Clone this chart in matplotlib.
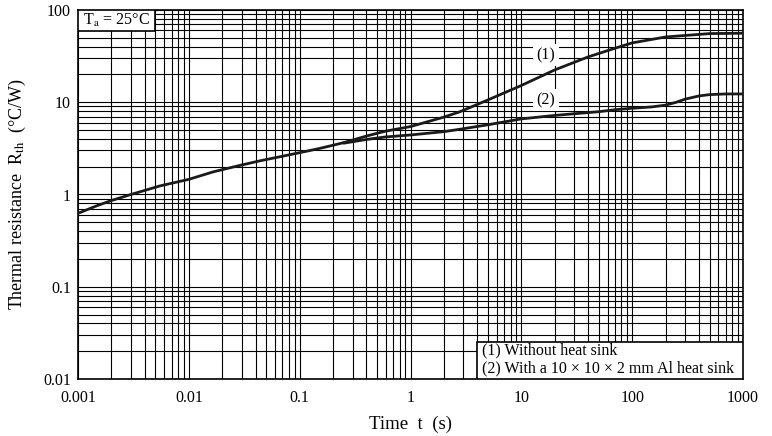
import matplotlib
matplotlib.use("Agg")
import matplotlib.pyplot as plt
from matplotlib.patches import Rectangle
from matplotlib.ticker import LogLocator, FixedLocator, FixedFormatter, NullFormatter

plt.rcParams['font.family'] = ['Liberation Serif', 'DejaVu Serif']
plt.rcParams['mathtext.fontset'] = 'stix'

# Data
t_common = [0.001, 0.0015, 0.002, 0.003, 0.0055, 0.01, 0.0166, 0.029, 0.044, 0.07, 0.1, 0.15, 0.2, 0.25]
r_common = [0.625, 0.76, 0.86, 1.0, 1.24, 1.46, 1.76, 2.07, 2.32, 2.6, 2.84, 3.15, 3.42, 3.65]

t1 = [0.25, 0.4, 0.59, 1, 2, 2.8, 5, 10, 20, 40, 70, 100, 200, 500, 1000]
r1 = [3.65, 4.3, 4.85, 5.45, 6.9, 7.9, 10.6, 15.2, 22.4, 31.0, 38.5, 44.0, 51.0, 55.5, 56.0]

t2 = [0.25, 0.4, 0.59, 1, 2, 2.8, 5, 10, 20, 50, 70, 100, 150, 200, 250, 300, 400, 500, 700, 1000]
r2 = [3.6, 3.95, 4.2, 4.42, 4.8, 5.1, 5.7, 6.6, 7.2, 7.9, 8.3, 8.6, 8.9, 9.3, 10.0, 10.8, 11.7, 12.1, 12.3, 12.3]

x_ticks = [0.001, 0.01, 0.1, 1, 10, 100, 1000]
x_labels = ['0.001', '0.01', '0.1', '1', '10', '100', '1000']
y_ticks = [0.01, 0.1, 1, 10, 100]
y_labels = ['0.01', '0.1', '1', '10', '100']

W, H = 772, 436
L, R, T, B = 78, 743, 10, 379
fig = plt.figure(figsize=(W / 100, H / 100), dpi=100)
ax = fig.add_axes([L / W, 1 - B / H, (R - L) / W, (B - T) / H])

ax.set_xscale('log')
ax.set_yscale('log')
ax.set_xlim(0.001, 1000)
ax.set_ylim(0.01, 100)

ax.xaxis.set_major_locator(FixedLocator(x_ticks))
ax.xaxis.set_major_formatter(FixedFormatter(x_labels))
ax.yaxis.set_major_locator(FixedLocator(y_ticks))
ax.yaxis.set_major_formatter(FixedFormatter(y_labels))
ax.xaxis.set_minor_locator(LogLocator(base=10, subs=range(2, 10), numticks=20))
ax.yaxis.set_minor_locator(LogLocator(base=10, subs=range(2, 10), numticks=20))
ax.xaxis.set_minor_formatter(NullFormatter())
ax.yaxis.set_minor_formatter(NullFormatter())

ax.grid(True, which='both', color='black', linewidth=0.8)
ax.tick_params(which='both', length=0, labelsize=11.5, colors='black')
ax.tick_params(axis='x', pad=8)
ax.tick_params(axis='y', pad=5)
for s in ax.spines.values():
    s.set_linewidth(1.2)
    s.set_color('black')

ax.plot(t_common, r_common, color='#1a1a1a', linewidth=2.0, zorder=3, solid_capstyle='round')
ax.plot(t1, r1, color='#1a1a1a', linewidth=2.0, zorder=3, solid_capstyle='round')
ax.plot(t2, r2, color='#1a1a1a', linewidth=2.0, zorder=3, solid_capstyle='round')

ax.text(16.7, 32.5, '(1)', fontsize=11.5, ha='center', va='center', zorder=4,
        bbox=dict(boxstyle='square,pad=0.2', facecolor='white', edgecolor='none'))
ax.text(16.7, 10.6, '(2)', fontsize=11.5, ha='center', va='center', zorder=4,
        bbox=dict(boxstyle='square,pad=0.2', facecolor='white', edgecolor='none'))

# T_a box in top-left corner
aw, ah = R - L, B - T
ax.add_patch(Rectangle((0, 1 - 21 / ah), 77 / aw, 21 / ah, transform=ax.transAxes,
                       facecolor='white', edgecolor='black', linewidth=1.2, zorder=5))
ax.text(38.5 / aw, 1 - 10.5 / ah, r'T$_{\mathrm{a}}$ = 25°C', transform=ax.transAxes,
        fontsize=11.5, ha='center', va='center', zorder=6)

# note box in bottom-right corner
ax.add_patch(Rectangle((1 - 266 / aw, 0), 266 / aw, 37 / ah, transform=ax.transAxes,
                       facecolor='white', edgecolor='black', linewidth=1.2, zorder=5))
ax.text(1 - 261 / aw, 19.5 / ah, '(1) Without heat sink\n(2) With a 10 × 10 × 2 mm Al heat sink',
        transform=ax.transAxes, fontsize=11.5, ha='left', va='center', zorder=6,
        linespacing=1.2)

ax.set_xlabel('Time  t  (s)', fontsize=13.5, labelpad=7)
ax.set_ylabel(r'Thermal resistance  R$_{\mathrm{th}}$  (°C/W)', fontsize=13, labelpad=11)

fig.savefig('out.png', dpi=100)
